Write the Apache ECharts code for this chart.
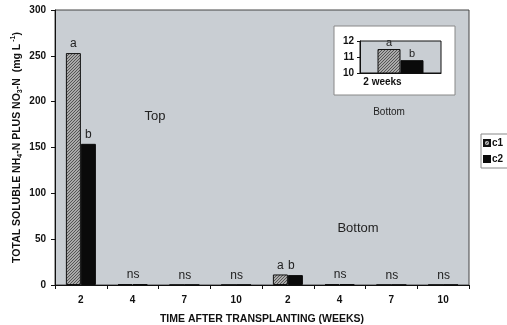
<!DOCTYPE html>
<html>
<head>
<meta charset="utf-8">
<script src="https://cdn.jsdelivr.net/npm/echarts@6/dist/echarts.min.js"></script>
<style>
  html, body { margin: 0; padding: 0; background: #fff; }
  #chart { width: 507px; height: 325px; }
</style>
</head>
<body>
<div id="chart"></div>
<script>
// Weeks after transplanting, top section then bottom section
const weeks = ['2', '4', '7', '10', '2', '4', '7', '10'];
// Total soluble NH4-N plus NO3-N (mg/L) per treatment
const c1Values = [253, 1.0, 0.2, 0.2, 11.5, 1.0, 0.2, 0.2];
const c2Values = [154, 0.8, 0.2, 0.2, 10.8, 0.8, 0.2, 0.2];
// Significance letters above each group
const c1Letters = ['a', 'ns', 'ns', 'ns', 'a', 'ns', 'ns', 'ns'];
const c2Letters = ['b', '', '', '', 'b', '', '', ''];
// Close-up of the bottom section at 2 weeks
const insetCategories = ['2 weeks'];
const insetC1 = [11.5];
const insetC2 = [10.8];
const yTicks = [0, 300, 50];
const insetTicks = [10, 12, 1];

const FONT = "'Liberation Sans', Arial, sans-serif";
const PLOT_BG = '#c9ced3';

// Main plot box and inset box (pixels)
const MAIN = { left: 55, top: 10, width: 414, height: 275 };
const INSET = { left: 360, top: 41, width: 81, height: 32 };

function hatchPattern() {
  const c = document.createElement('canvas');
  c.width = 3; c.height = 3;
  const g = c.getContext('2d');
  g.fillStyle = '#aaaaaa';
  g.fillRect(0, 0, 3, 3);
  g.fillStyle = '#555555';
  // one-pixel diagonal running lower-left to upper-right
  g.fillRect(2, 0, 1, 1);
  g.fillRect(1, 1, 1, 1);
  g.fillRect(0, 2, 1, 1);
  return { image: c, repeat: 'repeat' };
}
const hatch = hatchPattern();

const letterStyle = { fontFamily: FONT, fontSize: 12, color: '#222', distance: 3 };

function c1Data() {
  return c1Values.map((v, i) => {
    const txt = c1Letters[i];
    const isNs = txt === 'ns';
    return {
      value: v,
      label: Object.assign({ show: !!txt, position: 'top', formatter: txt,
        offset: isNs ? [8, 0] : [0, 0] }, letterStyle)
    };
  });
}
function c2Data() {
  return c2Values.map((v, i) => {
    const txt = c2Letters[i];
    return {
      value: v,
      label: Object.assign({ show: !!txt, position: 'top', formatter: txt,
        offset: i === 4 ? [-4, 0] : [0, 0] }, letterStyle)
    };
  });
}

const chart = echarts.init(document.getElementById('chart'), null, { renderer: 'canvas' });

const option = {
  animation: false,
  backgroundColor: '#fff',
  textStyle: { fontFamily: FONT },
  legend: {
    data: ['c1', 'c2'],
    orient: 'vertical',
    left: 481, top: 134,
    itemWidth: 6, itemHeight: 6, itemGap: 6,
    padding: [4, 6, 4, 2],
    backgroundColor: '#fff',
    borderColor: '#888', borderWidth: 1,
    textStyle: { fontFamily: FONT, fontSize: 10, fontWeight: 'bold', color: '#111', padding: [0, 0, 0, -3] },
    icon: 'rect'
  },
  grid: [
    { left: MAIN.left, top: MAIN.top, width: MAIN.width, height: MAIN.height,
      outerBoundsMode: 'none', containLabel: false },
    { left: INSET.left, top: INSET.top, width: INSET.width, height: INSET.height,
      outerBoundsMode: 'none', containLabel: false }
  ],
  xAxis: [
    {
      gridIndex: 0, type: 'category', data: weeks,
      axisLine: { lineStyle: { color: '#111', width: 1 } },
      axisTick: { show: true, length: 4, lineStyle: { color: '#111' } },
      axisLabel: { fontFamily: FONT, fontSize: 10, fontWeight: 'bold', color: '#111', margin: 10 },
      name: 'TIME AFTER TRANSPLANTING (WEEKS)',
      nameLocation: 'middle', nameGap: 29, nameMoveOverlap: false,
      nameTextStyle: { fontFamily: FONT, fontSize: 10.5, fontWeight: 'bold', color: '#111' }
    },
    {
      gridIndex: 1, type: 'category', data: insetCategories, z: 11,
      axisLine: { lineStyle: { color: '#111' } },
      axisTick: { show: false },
      axisLabel: { fontFamily: FONT, fontSize: 10, fontWeight: 'bold', color: '#111',
        margin: 4, padding: [0, 36, 0, 0] }
    }
  ],
  yAxis: [
    {
      gridIndex: 0, type: 'value',
      min: yTicks[0], max: yTicks[1], interval: yTicks[2],
      splitLine: { show: false },
      axisLine: { show: true, lineStyle: { color: '#111', width: 1 } },
      axisTick: { show: true, length: 4, lineStyle: { color: '#111' } },
      axisLabel: { fontFamily: FONT, fontSize: 10, fontWeight: 'bold', color: '#111', margin: 9 },
      name: '{t|TOTAL SOLUBLE NH}{s|4}{t|-N PLUS NO}{s|3}{t|-N  (mg L}{p| -1}{t|)}',
      nameLocation: 'middle', nameGap: 31, nameMoveOverlap: false,
      nameTextStyle: {
        rich: {
          t: { fontFamily: FONT, fontSize: 10.5, fontWeight: 'bold', color: '#111', lineHeight: 14, verticalAlign: 'middle' },
          s: { fontFamily: FONT, fontSize: 7, fontWeight: 'bold', color: '#111', lineHeight: 14, verticalAlign: 'bottom' },
          p: { fontFamily: FONT, fontSize: 7, fontWeight: 'bold', color: '#111', lineHeight: 14, verticalAlign: 'top' }
        }
      }
    },
    {
      gridIndex: 1, type: 'value', z: 11,
      min: insetTicks[0], max: insetTicks[1], interval: insetTicks[2],
      splitLine: { show: false },
      axisLine: { show: true, lineStyle: { color: '#111' } },
      axisTick: { show: true, length: 3, lineStyle: { color: '#111' } },
      axisLabel: { fontFamily: FONT, fontSize: 10, fontWeight: 'bold', color: '#111', margin: 6 }
    }
  ],
  series: [
    {
      name: 'c1', type: 'bar', xAxisIndex: 0, yAxisIndex: 0,
      barWidth: 15, barGap: '0%',
      itemStyle: { color: hatch, borderColor: '#111', borderWidth: 1 },
      data: c1Data()
    },
    {
      name: 'c2', type: 'bar', xAxisIndex: 0, yAxisIndex: 0,
      barWidth: 15, barGap: '0%',
      itemStyle: { color: '#0a0a0a', borderColor: '#0a0a0a', borderWidth: 1 },
      data: c2Data()
    },
    {
      name: 'c1', type: 'bar', xAxisIndex: 1, yAxisIndex: 1, z: 12,
      barWidth: 23, barGap: '0%',
      itemStyle: { color: hatch, borderColor: '#111', borderWidth: 1 },
      label: { show: true, position: 'top', formatter: 'a', distance: 1,
        fontFamily: FONT, fontSize: 11, color: '#222' },
      data: insetC1
    },
    {
      name: 'c2', type: 'bar', xAxisIndex: 1, yAxisIndex: 1, z: 12,
      barWidth: 23, barGap: '0%',
      itemStyle: { color: '#0a0a0a', borderColor: '#0a0a0a', borderWidth: 1 },
      label: { show: true, position: 'top', formatter: 'b', distance: 1,
        fontFamily: FONT, fontSize: 11, color: '#222' },
      data: insetC2
    }
  ],
  graphic: [
    // main plot background and frame
    { type: 'rect', z: -10, silent: true,
      shape: { x: MAIN.left, y: MAIN.top, width: MAIN.width, height: MAIN.height },
      style: { fill: PLOT_BG, stroke: '#444', lineWidth: 1 } },
    // inset panel
    { type: 'rect', shape: { x: 334, y: 26, width: 121, height: 69 }, z: 5, silent: true,
      style: { fill: '#fff', stroke: '#888', lineWidth: 1 } },
    { type: 'rect', z: 6, silent: true,
      shape: { x: INSET.left, y: INSET.top, width: INSET.width, height: INSET.height },
      style: { fill: PLOT_BG, stroke: '#111', lineWidth: 1 } },
    { type: 'text', x: 155, y: 116, z: 6,
      style: { text: 'Top', font: "13px 'Liberation Sans', Arial", fill: '#222', align: 'center', verticalAlign: 'middle' } },
    { type: 'text', x: 358, y: 228, z: 6,
      style: { text: 'Bottom', font: "13px 'Liberation Sans', Arial", fill: '#222', align: 'center', verticalAlign: 'middle' } },
    { type: 'text', x: 389, y: 112, z: 6,
      style: { text: 'Bottom', font: "10px 'Liberation Sans', Arial", fill: '#222', align: 'center', verticalAlign: 'middle' } }
  ]
};

chart.setOption(option);
</script>
</body>
</html>
